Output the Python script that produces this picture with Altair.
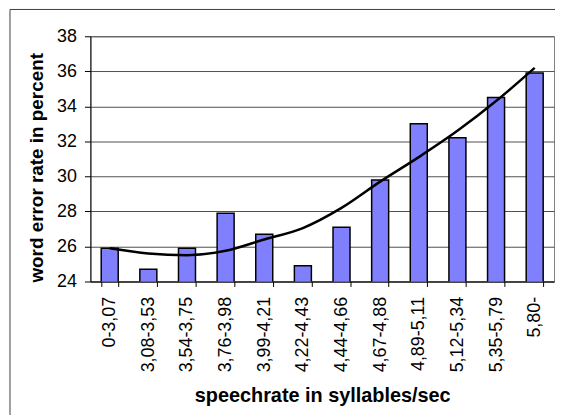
import altair as alt
import pandas as pd

categories = ["0-3,07", "3,08-3,53", "3,54-3,75", "3,76-3,98", "3,99-4,21", "4,22-4,43",
              "4,44-4,66", "4,67-4,88", "4,89-5,11", "5,12-5,34", "5,35-5,79", "5,80-"]
wer = [25.9, 24.7, 25.9, 27.9, 26.7, 24.9, 27.1, 29.8, 33.0, 32.2, 34.5, 35.9]
trend = [25.9, 25.6, 25.5, 25.75, 26.4, 27.05, 28.2, 29.7, 31.1, 32.6, 34.3, 36.2]
y_ticks = [24, 26, 28, 30, 32, 34, 36, 38]

df = pd.DataFrame({"rate": categories, "wer": wer, "trend": trend})

FONT = "Liberation Sans"

x_scale = alt.Scale(paddingInner=0.56, paddingOuter=0.28)
x_axis = alt.Axis(
    title="speechrate in syllables/sec",
    labelAngle=270,
    labelAlign="right",
    labelBaseline="middle",
    labelOverlap=False,
    tickBand="extent",
    tickSize=5,
    labelPadding=10,
    labelFontSize=18,
    titleFontSize=20,
    titleFontWeight="bold",
    titlePadding=14,
    domainColor="black",
    tickColor="black",
    labelColor="black",
    titleColor="black",
    grid=False,
)

y_scale = alt.Scale(domain=[24, 38], nice=False, zero=False)
y_axis = alt.Axis(
    title="word error rate in percent",
    values=y_ticks,
    labelOverlap=False,
    tickSize=6,
    labelPadding=8,
    labelFontSize=18,
    titleFontSize=19,
    titleFontWeight="bold",
    titlePadding=10,
    titleY=132,
    domainColor="black",
    tickColor="black",
    labelColor="black",
    titleColor="black",
    gridColor="#505050",
    gridWidth=1,
)

base = alt.Chart(df)

bars = base.mark_bar(color="#8080FF", stroke="black", strokeWidth=1.5, clip=True).encode(
    x=alt.X("rate:N", sort=categories, scale=x_scale, axis=x_axis),
    y=alt.Y("wer:Q", scale=y_scale, axis=y_axis),
)

line = base.mark_line(color="black", strokeWidth=2.5, interpolate="monotone").encode(
    x=alt.X("rate:N", sort=categories, scale=x_scale, axis=x_axis),
    y=alt.Y("trend:Q", scale=y_scale, axis=y_axis),
)

frame_df = pd.DataFrame({"f": [0]})
frame_top = alt.Chart(frame_df).mark_rule(color="#404040", strokeWidth=1).encode(
    x=alt.value(-81), x2=alt.value(600), y=alt.value(-27)
)
frame_left = alt.Chart(frame_df).mark_rule(color="#404040", strokeWidth=1).encode(
    x=alt.value(-81), y=alt.value(-27), y2=alt.value(500)
)

chart = alt.layer(bars, line, frame_top, frame_left).properties(
    width=467,
    height=247,
    autosize=alt.AutoSizeParams(type="none"),
    padding={"left": 83, "top": 27, "right": 1, "bottom": 133},
).configure(
    font=FONT,
).configure_view(
    stroke="#808080",
    strokeWidth=1,
)

chart.save("out.html", embed_options={"renderer": "svg", "actions": False})
